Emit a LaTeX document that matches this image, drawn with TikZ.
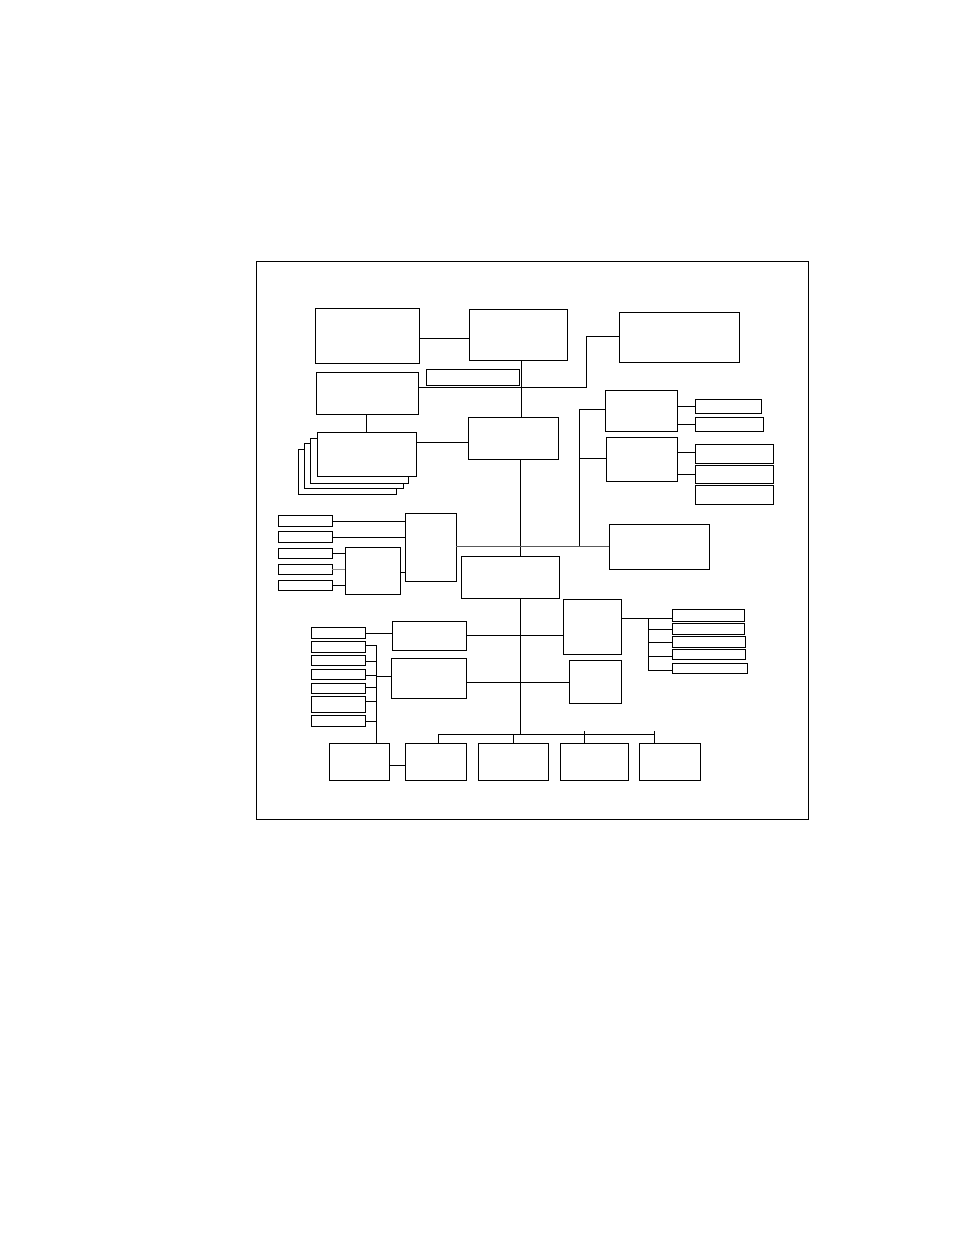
\documentclass[tikz,border=0pt]{standalone}
\usetikzlibrary{fit}
\tikzset{
  box/.style={draw, line width=0.7pt, inner sep=0pt, outer sep=0pt, fill=white},
  wire/.style={line width=0.7pt},
  greywire/.style={line width=0.7pt, draw=black!65},
}
\newcommand\bx[5]{\node[box, fit={(#2,#3) (#4,#5)}] (#1) {};}
\begin{document}
\begin{tikzpicture}[x=0.75pt,y=-0.75pt]
\useasboundingbox (0,0) rectangle (954,1235);
% frame
\node[box, fill=none, fit={(256,261) (808,819)}] (frame) {};
% boxes
\bx{A}{315}{308}{419}{363}
\bx{B}{469}{309}{567}{360}
\bx{thin}{426}{369}{519}{385}
\bx{C}{316}{372}{418}{414}
\bx{D}{619}{312}{739}{362}
\bx{E}{468}{417}{558}{459}
\bx{F4}{298}{449}{396}{494}
\bx{F3}{304}{443}{403}{488}
\bx{F2}{310}{438}{408}{483}
\bx{F}{317}{432}{416}{476}
\bx{H1}{605}{390}{677}{431}
\bx{H2}{606}{437}{677}{481}
\bx{s1}{695}{399}{761}{413}
\bx{s2}{695}{417}{763}{431}
\bx{t1}{695}{444}{773}{463}
\bx{t2}{695}{465.5}{773}{483}
\bx{t3}{695}{485.5}{773}{504}
\bx{K}{609}{524}{709}{569}
\bx{I}{405}{513}{456}{581}
\bx{J}{345}{547}{400}{594}
\bx{u1}{278}{515}{332}{526}
\bx{u2}{278}{531}{332}{542}
\bx{u3}{278}{548}{332}{558}
\bx{u4}{278}{564}{332}{574}
\bx{u5}{278}{580}{332}{590}
\bx{G}{461}{556}{559}{598}
\bx{N}{563}{599}{621}{654}
\bx{O}{569}{660}{621}{703}
\bx{r1}{672}{609}{744}{621}
\bx{r2}{672}{623}{744}{634}
\bx{r3}{672}{636}{745}{647}
\bx{r4}{672}{649}{745}{659}
\bx{r5}{672}{663}{747}{673}
\bx{L}{392}{621}{466}{650}
\bx{M}{391}{658}{466}{698}
\bx{v1}{311}{627}{365}{638}
\bx{v2}{311}{641}{365}{652}
\bx{v3}{311}{655}{365}{665}
\bx{v4}{311}{669}{365}{679}
\bx{v5}{311}{683}{365}{693}
\bx{v6}{311}{696}{365}{712}
\bx{v7}{311}{715}{365}{726}
\bx{P}{329}{743}{389}{780}
\bx{Q}{405}{743}{466}{780}
\bx{R}{478}{743}{548}{780}
\bx{S}{560}{743}{628}{780}
\bx{T}{639}{743}{700}{780}
% connectors top
\draw[wire] (A.east |- 0,338) -- (B.west |- 0,338);
\draw[wire] (B.south -| 521,0) -- (E.north -| 521,0);
\draw[wire] (C.east |- 0,387) -| (586,336) -- (D.west |- 0,336);
\draw[wire] (C.south -| 366,0) -- (F.north -| 366,0);
\draw[wire] (F.east |- 0,442) -- (E.west |- 0,442);
\draw[wire] (E.south -| 520,0) -- (G.north -| 520,0);
% right H group
\coordinate (hb1) at (579,409);
\coordinate (hb2) at (579,546);
\draw[wire] (H1.west |- hb1) -- (hb1) -- (hb2);
\draw[wire] (579,458) -- (H2.west |- 0,458);
\draw[wire] (H1.east |- 0,406) -- (s1.west |- 0,406);
\draw[wire] (H1.east |- 0,424) -- (s2.west |- 0,424);
\draw[wire] (H2.east |- 0,452) -- (t1.west |- 0,452);
\draw[wire] (H2.east |- 0,474) -- (t2.west |- 0,474);
% left I/J group
\draw[wire] (u1.east |- 0,521) -- (I.west |- 0,521);
\draw[wire] (u2.east |- 0,537) -- (I.west |- 0,537);
\draw[wire] (u3.east |- 0,553) -- (J.west |- 0,553);
\draw[greywire, draw=black!45] (u4.east |- 0,569) -- (J.west |- 0,569);
\draw[wire] (u5.east |- 0,585) -- (J.west |- 0,585);
\draw[wire] (J.east |- 0,572) -- (I.west |- 0,572);
\draw[greywire] (I.east |- 0,546) -- (K.west |- 0,546);
% middle
\draw[wire] (v1.east |- 0,633) -- (L.west |- 0,633);
\draw[wire] (L.east |- 0,635) -- (N.west |- 0,635);
\draw[wire] (M.east |- 0,682) -- (O.west |- 0,682);
% N fan-out
\coordinate (nb1) at (648,618);
\coordinate (nb2) at (648,670);
\draw[wire] (N.east |- nb1) -- (r1.west |- nb1);
\draw[wire] (nb1) -- (nb2) -- (r5.west |- nb2);
\draw[wire] (648,629) -- (r2.west |- 0,629);
\draw[wire] (648,642) -- (r3.west |- 0,642);
\draw[wire] (648,656) -- (r4.west |- 0,656);
% v bus
\coordinate (vb1) at (376,645);
\draw[wire] (v2.east |- vb1) -- (vb1) -- (P.north -| vb1);
\draw[wire] (v3.east |- 0,661) -- (376,661);
\draw[wire] (v4.east |- 0,675) -- (376,675);
\draw[wire] (v5.east |- 0,687) -- (376,687);
\draw[wire] (v6.east |- 0,701) -- (376,701);
\draw[wire] (v7.east |- 0,721) -- (376,721);
\draw[wire] (376,676) -- (M.west |- 0,676);
% bottom bus
\coordinate (busL) at (438,734);
\coordinate (busR) at (655,734);
\coordinate (busC) at (520,734);
\draw[wire] (G.south -| busC) -- (busC);
\draw[wire] (busL) -- (busR);
\draw[wire] (busL) -- (Q.north -| busL);
\draw[wire] (513,734) -- (R.north -| 513,0);
\draw[wire] (584,731) -- (S.north -| 584,0);
\draw[wire] (654,731) -- (T.north -| 654,0);
\draw[wire] (P.east |- 0,765) -- (Q.west |- 0,765);
\end{tikzpicture}
\end{document}
